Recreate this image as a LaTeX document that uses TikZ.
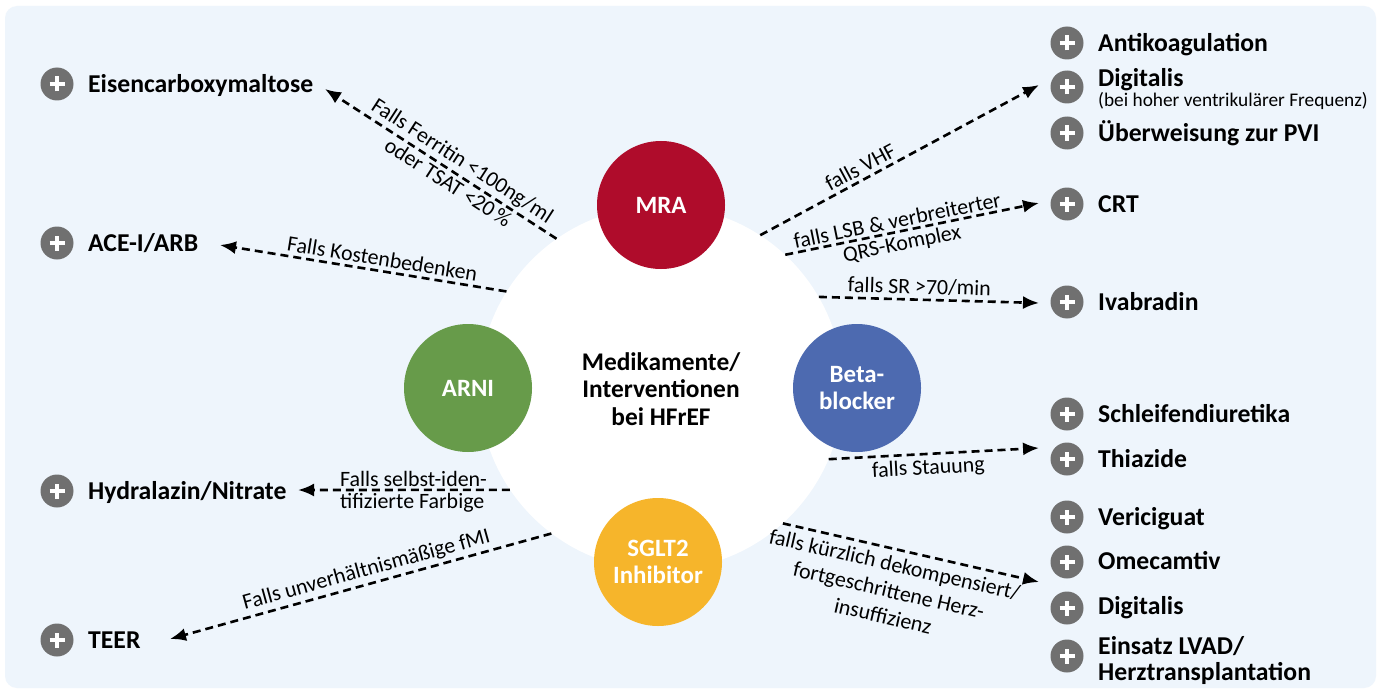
\documentclass[tikz,border=0pt]{standalone}
\usepackage{fontspec}
\setmainfont{Carlito}
\usetikzlibrary{arrows.meta}
\definecolor{bgblue}{HTML}{EEF5FC}
\definecolor{mracol}{HTML}{AF0C2B}
\definecolor{arnicol}{HTML}{679B4A}
\definecolor{betacol}{HTML}{4D6AB0}
\definecolor{sgltcol}{HTML}{F6B52B}
\definecolor{plusgray}{HTML}{707070}
\begin{document}
\begin{tikzpicture}[x=1bp,y=-1bp,
  conn/.style={line width=2.6bp, dash pattern=on 8bp off 5bp, -{Latex[length=16bp,width=13bp]}},
  lbl/.style={font=\fontsize{22}{26}\selectfont, inner sep=3.5bp},
  plusicon/.style={circle, fill=plusgray, minimum size=33bp, inner sep=0pt, path picture={
     \draw[white, line width=3.5bp] ([xshift=-7.5bp]path picture bounding box.center) -- ([xshift=7.5bp]path picture bounding box.center);
     \draw[white, line width=3.5bp] ([yshift=-7.5bp]path picture bounding box.center) -- ([yshift=7.5bp]path picture bounding box.center);}},
  itemtxt/.style={font=\bfseries\fontsize{25.8}{28}\selectfont, anchor=west, inner sep=0pt, text height=16.5bp, text depth=0bp},
  subtxt/.style={font=\fontsize{19.4}{21}\selectfont, anchor=west, inner sep=0pt, text height=13bp, text depth=0bp},
  drug/.style={circle, minimum size=128bp, inner sep=0pt, text=white, align=center, font=\bfseries\fontsize{25}{27}\selectfont},
]
\fill[white] (0,0) rectangle (1381,693);
\useasboundingbox (0,0) rectangle (1381,693);
\fill[bgblue, rounded corners=12bp] (5,6) rectangle (1376,688);

% hub
\node[circle, fill=white, minimum size=364bp, inner sep=0pt] (hub) at (661,388) {};
\node[align=center, font=\bfseries\fontsize{25.5}{27.5}\selectfont] (title) at (661,389) {Medikamente/\\Interventionen\\bei HFrEF};

\node[drug, fill=mracol] (mra) at (661,205) {MRA};
\node[drug, fill=arnicol] (arni) at (468,388) {ARNI};
\node[drug, fill=betacol] (beta) at (857,388) {Beta-\\blocker};
\node[drug, fill=sgltcol] (sglt) at (658,562) {SGLT2\\Inhibitor};

% left items
\node[plusicon] (p1) at (57,84) {};  \node[itemtxt] (i1) at (88,84) {Eisencarboxymaltose};
\node[plusicon] (p2) at (57,243) {}; \node[itemtxt] (i2) at (88,243) {ACE-I/ARB};
\node[plusicon] (p3) at (57,491) {}; \node[itemtxt] (i3) at (88,491) {Hydralazin/Nitrate};
\node[plusicon] (p4) at (57,640) {}; \node[itemtxt] (i4) at (88,640) {TEER};

% right items
\node[plusicon] (q1) at (1067,43) {};  \node[itemtxt] (r1) at (1098,43) {Antikoagulation};
\node[plusicon] (q2) at (1067,87) {};  \node[itemtxt] (r2) at (1098,78) {Digitalis};
\node[subtxt] (r2s) at (1098,100) {(bei hoher ventrikulärer Frequenz)};
\node[plusicon] (q3) at (1067,133) {}; \node[itemtxt] (r3) at (1098,133) {Überweisung zur PVI};
\node[plusicon] (q4) at (1067,204) {}; \node[itemtxt] (r4) at (1098,204) {CRT};
\node[plusicon] (q5) at (1067,302) {}; \node[itemtxt] (r5) at (1098,302) {Ivabradin};
\node[plusicon] (q6) at (1067,414) {}; \node[itemtxt] (r6) at (1098,414) {Schleifendiuretika};
\node[plusicon] (q7) at (1067,459) {}; \node[itemtxt] (r7) at (1098,459) {Thiazide};
\node[plusicon] (q8) at (1067,517) {}; \node[itemtxt] (r8) at (1098,517) {Vericiguat};
\node[plusicon] (q9) at (1067,562) {}; \node[itemtxt] (r9) at (1098,561) {Omecamtiv};
\node[plusicon] (q10) at (1067,608) {}; \node[itemtxt] (r10) at (1098,606) {Digitalis};
\node[plusicon] (q11) at (1067,656) {}; \node[itemtxt] (r11) at (1098,646) {Einsatz LVAD/};
\node[itemtxt] (r11b) at (1098,672) {Herztransplantation};

% arrow end points
\coordinate (e1) at (325,89);
\coordinate (e2) at (220,245);
\coordinate (e3) at (298,490);
\coordinate (e4) at (170,639);
\coordinate (e5) at (1039,85);
\coordinate (e6) at (1039,203);
\coordinate (e7) at (1039,303);
\coordinate (e8) at (1039,448);
\coordinate (e9) at (1039,582);

% connectors
\draw[conn] (hub.125) -- (e1)
  node[lbl, pos=0.44, sloped, above, inner sep=2.5bp] {Falls Ferritin <100ng/ml}
  node[lbl, pos=0.44, sloped, below, inner sep=2.5bp] {oder TSAT <20\,\%};
\draw[conn] (hub.148) -- (e2) node[lbl, pos=0.44, sloped, above] {Falls Kostenbedenken};
\draw[conn] (hub.214) -- (e3)
  node[lbl, pos=0.817, anchor=south west, inner sep=2bp] {Falls selbst-iden-}
  node[lbl, pos=0.817, anchor=north west, inner sep=2bp] {tifizierte Farbige};
\draw[conn] (hub.233) -- (e4) node[lbl, pos=0.475, sloped, above, inner sep=3bp] {Falls unverhältnismäßige fMI};
\draw[conn] (hub.57.7) -- (e5) node[lbl, pos=0.38, sloped, above] {falls VHF};
\draw[conn] (hub.47.9) -- (e6)
  node[lbl, pos=0.45, sloped, above, inner sep=2.5bp] {falls LSB \& verbreiterter}
  node[lbl, pos=0.45, sloped, below, inner sep=2.5bp] {QRS-Komplex};
\draw[conn] (hub.30.2) -- (e7) node[lbl, pos=0.455, sloped, above] {falls SR >70/min};
\draw[conn] (hub.-23.9) -- (e8) node[lbl, pos=0.47, sloped, below, inner sep=4bp] {falls Stauung};
\draw[conn] (hub.-48.6) -- (e9) node[lbl, pos=0.45, sloped, below, align=center, inner sep=6bp, font=\fontsize{22}{26.5}\selectfont] {falls kürzlich dekompensiert/\\fortgeschrittene Herz-\\insuffizienz};
\end{tikzpicture}
\end{document}
